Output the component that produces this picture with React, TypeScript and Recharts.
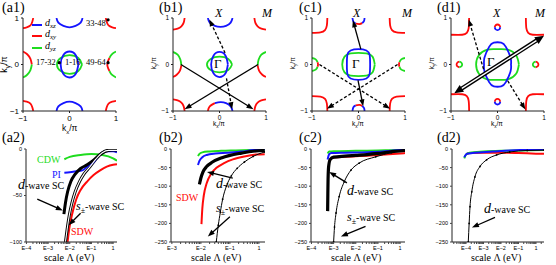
import { LineChart, Line, XAxis, YAxis, ReferenceLine, ReferenceDot } from "recharts"

type Pt = { x: number; y: number }
const P = (a: number[][]): Pt[] => a.map(([x, y]) => ({ x, y }))

const RED = "#ff0a0a"
const BLUE = "#1414ff"
const GREEN = "#1edc1e"
const SERIF = "'Liberation Serif', 'DejaVu Serif', serif"
const SANS = "'Liberation Sans', Arial, sans-serif"

// ---------- top row: Fermi surfaces (k in units of pi) ----------
const kTicks = [-1, 0, 1]

// (a1)
const a1TL = P([[-1, 0.78], [-0.92, 0.8], [-0.84, 0.84], [-0.8, 0.92], [-0.78, 1]])
const a1TR = P([[1, 0.78], [0.92, 0.8], [0.84, 0.84], [0.8, 0.92], [0.78, 1]])
const a1BL = P([[-1, -0.78], [-0.92, -0.8], [-0.84, -0.84], [-0.8, -0.92], [-0.78, -1]])
const a1BR = P([[1, -0.78], [0.92, -0.8], [0.84, -0.84], [0.8, -0.92], [0.78, -1]])
const a1Top = P([[-0.28, 1], [-0.24, 0.9], [-0.13, 0.83], [0, 0.8], [0.13, 0.83], [0.24, 0.9], [0.28, 1]])
const a1Bot = P([[-0.28, -1], [-0.24, -0.9], [-0.13, -0.83], [0, -0.8], [0.13, -0.83], [0.24, -0.9], [0.28, -1]])
const a1LeftRed = P([[-1, 0.28], [-0.91, 0.22], [-0.84, 0.12], [-0.81, 0]])
const a1LeftGreen = P([[-0.81, 0], [-0.84, -0.12], [-0.91, -0.22], [-1, -0.28]])
const a1RightG1 = P([[1, 0.28], [0.91, 0.22], [0.86, 0.14]])
const a1RightRed = P([[0.86, 0.14], [0.82, 0.05], [0.82, -0.05], [0.86, -0.14]])
const a1RightG2 = P([[0.86, -0.14], [0.91, -0.22], [1, -0.28]])
const a1GBlue = P([[0.19, 0], [0.135, 0.2], [0, 0.28], [-0.135, 0.2], [-0.19, 0], [-0.135, -0.2], [0, -0.28], [0.135, -0.2], [0.19, 0]])
const a1GGreen = P([[0.27, 0], [0.19, 0.14], [0, 0.2], [-0.19, 0.14], [-0.27, 0], [-0.19, -0.14], [0, -0.2], [0.19, -0.14], [0.27, 0]])
const a1Dots = P([[0.83, 0.96], [-0.22, 0.04], [0.83, 0.04]])

// (b1)
const b1TL = P([[-1, 0.75], [-0.9, 0.77], [-0.82, 0.82], [-0.77, 0.9], [-0.75, 1]])
const b1TR = P([[1, 0.75], [0.9, 0.77], [0.82, 0.82], [0.77, 0.9], [0.75, 1]])
const b1BL = P([[-1, -0.75], [-0.9, -0.77], [-0.82, -0.82], [-0.77, -0.9], [-0.75, -1]])
const b1BR = P([[1, -0.75], [0.9, -0.77], [0.82, -0.82], [0.77, -0.9], [0.75, -1]])
const b1Top = P([[-0.25, 1], [-0.21, 0.9], [-0.1, 0.83], [0.02, 0.81], [0.14, 0.83], [0.24, 0.9], [0.28, 1]])
const b1BotRed = P([[-0.25, -1], [-0.21, -0.9], [-0.1, -0.83]])
const b1BotBlue = P([[-0.1, -0.83], [0.02, -0.81], [0.14, -0.83], [0.24, -0.9], [0.28, -1]])
const b1LeftGreen = P([[-1, 0.27], [-0.9, 0.21], [-0.84, 0.1], [-0.82, -0.02]])
const b1LeftRed = P([[-0.82, -0.02], [-0.85, -0.13], [-0.92, -0.22], [-1, -0.27]])
const b1RightGreen = P([[1, 0.27], [0.9, 0.21], [0.84, 0.1], [0.82, -0.02]])
const b1RightRed = P([[0.82, -0.02], [0.85, -0.13], [0.92, -0.22], [1, -0.27]])
const b1GBlue = P([[0.18, 0], [0.13, 0.19], [0, 0.27], [-0.13, 0.19], [-0.18, 0], [-0.13, -0.19], [0, -0.27], [0.13, -0.19], [0.18, 0]])
const b1GGreen = P([[0.27, 0], [0.19, 0.12], [0, 0.17], [-0.19, 0.12], [-0.27, 0], [-0.19, -0.12], [0, -0.17], [0.19, -0.12], [0.27, 0]])

// (c1)
const c1TL = P([[-1, 0.68], [-0.82, 0.69], [-0.72, 0.74], [-0.68, 0.84], [-0.67, 1]])
const c1TR = P([[1, 0.68], [0.82, 0.69], [0.72, 0.74], [0.68, 0.84], [0.67, 1]])
const c1BL = P([[-1, -0.68], [-0.82, -0.69], [-0.72, -0.74], [-0.68, -0.84], [-0.67, -1]])
const c1BR = P([[1, -0.68], [0.82, -0.69], [0.72, -0.74], [0.68, -0.84], [0.67, -1]])
const c1TopB1 = P([[-0.13, 1], [-0.11, 0.92], [-0.06, 0.88]])
const c1TopR = P([[-0.06, 0.88], [0.02, 0.87], [0.08, 0.89]])
const c1TopB2 = P([[0.08, 0.89], [0.12, 0.94], [0.13, 1]])
const c1BotB1 = P([[-0.13, -1], [-0.11, -0.92], [-0.06, -0.88]])
const c1BotR = P([[-0.06, -0.88], [0.02, -0.87], [0.08, -0.89]])
const c1BotB2 = P([[0.08, -0.89], [0.12, -0.94], [0.13, -1]])
const c1LG1 = P([[-1, 0.14], [-0.92, 0.11], [-0.88, 0.05]])
const c1LR = P([[-0.88, 0.05], [-0.87, 0], [-0.88, -0.05]])
const c1LG2 = P([[-0.88, -0.05], [-0.92, -0.11], [-1, -0.14]])
const c1RG1 = P([[1, 0.14], [0.92, 0.11], [0.88, 0.05]])
const c1RR = P([[0.88, 0.05], [0.87, 0], [0.88, -0.05]])
const c1RG2 = P([[0.88, -0.05], [0.92, -0.11], [1, -0.14]])
const c1GBlue = P([[0.25, 0], [0.24, 0.2], [0.17, 0.3], [0, 0.33], [-0.17, 0.3], [-0.24, 0.2], [-0.25, 0], [-0.24, -0.2], [-0.17, -0.3], [0, -0.33], [0.17, -0.3], [0.24, -0.2], [0.25, 0]])
const c1GGreen = P([[0.35, 0], [0.3, 0.17], [0.17, 0.24], [0, 0.25], [-0.17, 0.24], [-0.3, 0.17], [-0.35, 0], [-0.3, -0.17], [-0.17, -0.24], [0, -0.25], [0.17, -0.24], [0.3, -0.17], [0.35, 0]])

// (d1)
const d1TL = P([[-1, 0.64], [-0.76, 0.64], [-0.66, 0.68], [-0.62, 0.78], [-0.61, 1]])
const d1TR = P([[1, 0.64], [0.76, 0.64], [0.66, 0.68], [0.62, 0.78], [0.61, 1]])
const d1BL = P([[-1, -0.64], [-0.76, -0.64], [-0.66, -0.68], [-0.62, -0.78], [-0.61, -1]])
const d1BR = P([[1, -0.64], [0.76, -0.64], [0.66, -0.68], [0.62, -0.78], [0.61, -1]])
const d1TopRed = P([[-0.06, 0.8], [-0.042, 0.842], [0, 0.86], [0.042, 0.842], [0.06, 0.8]])
const d1TopBlue = P([[-0.06, 0.8], [-0.042, 0.758], [0, 0.74], [0.042, 0.758], [0.06, 0.8]])
const d1BotRed = P([[-0.06, -0.8], [-0.042, -0.758], [0, -0.74], [0.042, -0.758], [0.06, -0.8]])
const d1BotBlue = P([[-0.06, -0.8], [-0.042, -0.842], [0, -0.86], [0.042, -0.842], [0.06, -0.8]])
const d1LRed = P([[-0.82, 0.06], [-0.862, 0.042], [-0.88, 0], [-0.862, -0.042], [-0.82, -0.06]])
const d1LGreen = P([[-0.82, 0.06], [-0.778, 0.042], [-0.76, 0], [-0.778, -0.042], [-0.82, -0.06]])
const d1RRed = P([[0.82, 0.06], [0.862, 0.042], [0.88, 0], [0.862, -0.042], [0.82, -0.06]])
const d1RGreen = P([[0.82, 0.06], [0.778, 0.042], [0.76, 0], [0.778, -0.042], [0.82, -0.06]])
const d1GBlue = P([[0.29, 0], [0.28, 0.15], [0.18, 0.38], [0.08, 0.47], [-0.08, 0.47], [-0.18, 0.38], [-0.28, 0.15], [-0.29, 0], [-0.28, -0.15], [-0.18, -0.38], [-0.08, -0.47], [0.08, -0.47], [0.18, -0.38], [0.28, -0.15], [0.29, 0]])
const d1GGreen = P([[0.46, 0], [0.4, 0.2], [0.22, 0.32], [0, 0.33], [-0.22, 0.32], [-0.4, 0.2], [-0.46, 0], [-0.4, -0.2], [-0.22, -0.32], [0, -0.33], [0.22, -0.32], [0.4, -0.2], [0.46, 0]])

type Arc = { c: string; d: Pt[] }
type Arr = { a: number[]; b: number[]; dash?: boolean; both?: boolean; dbl?: boolean }

const b1Arrows: Arr[] = [
  { a: [-0.83, 0], b: [0.73, -0.96] },
  { a: [0.83, 0], b: [-0.75, -0.96] },
  { a: [0.12, 0.25], b: [-0.22, 0.97], dash: true },
  { a: [0.15, -0.3], b: [0.27, -0.96], dash: true },
]
const c1Arrows: Arr[] = [
  { a: [0.05, 0.33], b: [-0.12, 0.95] },
  { a: [-0.01, -0.34], b: [0.1, -0.9] },
  { a: [-0.84, 0], b: [0.68, -0.95], dash: true },
  { a: [0.84, 0], b: [-0.68, -0.95], dash: true },
]
const d1Arrows: Arr[] = [
  { a: [-0.93, -0.62], b: [1.0, 0.62], both: true, dbl: true },
  { a: [-0.3, -0.1], b: [-0.62, 0.97], dash: true },
  { a: [0.22, -0.35], b: [0.6, -0.97], dash: true },
]

// ---------- bottom row: flow of the channel couplings vs scale ----------
const eTicks = [-4, -3, -2, -1, 0]
const eLabels = ["E\u22124", "E\u22123", "E\u22122", "E\u22121", "1"]
const minorMults = [2, 3, 4, 5, 6, 7, 8, 9]
const yTicksA = [0, -50, -100]
const yTicksB = [0, -50, -100, -150, -200, -250]

const a2Cdw = P([[-2.25, -11], [-2.0, -8.5], [-1.5, -6.5], [-1.0, -5.5], [-0.5, -6.5], [0, -10], [0.18, -12.5]])
const a2Pi = P([[-2.25, -25.5], [-2.0, -25], [-1.7, -24], [-1.42, -23], [-1.2, -19], [-0.9, -14], [-0.6, -6], [-0.3, -2.5], [0, -2.5], [0.18, -3.5]])
const a2Sdw = P([[-2.1, -100], [-2.02, -85], [-1.88, -69], [-1.7, -54], [-1.5, -44], [-1.2, -35], [-0.9, -28], [-0.6, -23], [-0.29, -19], [0, -17], [0.18, -16.5]])
const a2Spm = P([[-2.2, -100], [-2.12, -86], [-2.02, -71], [-1.9, -58], [-1.75, -46], [-1.55, -35], [-1.35, -27], [-1.1, -20], [-0.8, -11], [-0.5, -4], [-0.2, -1.5], [0.18, -1.5]])
const a2Dsc = P([[-2.27, -70], [-2.2, -58], [-2.1, -46], [-1.95, -35], [-1.75, -27], [-1.5, -21], [-1.2, -17], [-0.9, -12], [-0.6, -6], [-0.3, -2], [0, -1], [0.18, -1.5]])

const b2Cdw = P([[-2.1, -19], [-2.05, -13], [-1.95, -9], [-1.7, -6.5], [-1.3, -5], [-0.8, -4], [-0.3, -3], [0.2, -2]])
const b2Pi = P([[-2.1, -43], [-2.05, -32], [-1.95, -22], [-1.8, -16], [-1.5, -12], [-1.1, -10], [-0.6, -7], [-0.2, -3], [0.2, -1]])
const b2Sdw = P([[-1.98, -202], [-1.95, -160], [-1.9, -125], [-1.8, -92], [-1.65, -67], [-1.45, -50], [-1.2, -38], [-0.9, -28], [-0.5, -20], [-0.1, -15], [0.2, -14]])
const b2Dsc = P([[-2.05, -95], [-2.0, -78], [-1.93, -62], [-1.8, -47], [-1.6, -35], [-1.3, -24], [-1.0, -17], [-0.6, -11], [-0.2, -6], [0.2, -4]])
const b2Spm = P([[-1.47, -250], [-1.4, -205], [-1.33, -170], [-1.25, -135], [-1.12, -100], [-0.95, -72], [-0.75, -52], [-0.5, -35], [-0.2, -20], [0.2, -8]])

const c2Cdw = P([[-3.27, -12], [-3.2, -7], [-3.0, -6], [-2, -5], [-1, -4], [0, -3], [0.22, -3]])
const c2Pi = P([[-3.27, -28], [-3.2, -14], [-3.1, -11], [-2.5, -10], [-1.5, -9], [-0.8, -7], [-0.3, -4], [0.22, -2]])
const c2Sdw = P([[-3.2, -34], [-3.1, -25], [-3.0, -23], [-2.5, -21], [-2, -19.5], [-1.5, -18], [-1, -16], [-0.5, -14], [0.22, -11]])
const c2Dsc = P([[-3.27, -167], [-3.26, -120], [-3.25, -80], [-3.22, -45], [-3.15, -28], [-3.0, -22], [-2.5, -19], [-2, -17], [-1.5, -15], [-1, -12], [-0.5, -8], [0.22, -4]])
const c2Spm = P([[-3.0, -250], [-2.96, -210], [-2.89, -172], [-2.75, -128], [-2.52, -88], [-2.22, -57], [-1.85, -38], [-1.1, -21], [-0.4, -10], [0.22, -5]])

const d2Cdw = P([[-4.1, -25], [-4.0, -15], [-3.8, -10], [-3, -7], [-2, -5], [-1, -4], [0.46, -3]])
const d2Pi = P([[-4.1, -22], [-3.95, -13], [-3.5, -10], [-2.5, -7], [-1.5, -4], [-0.5, -2], [0.46, -1]])
const d2Sdw = P([[-3.96, -14], [-3.8, -11], [-3, -10], [-2, -10], [-1, -11], [0, -12.5], [0.46, -13]])
const d2Dsc = P([[-3.87, -250], [-3.82, -200], [-3.77, -155], [-3.67, -115], [-3.49, -75], [-3.2, -47], [-2.82, -29], [-2.25, -16], [-1.5, -8], [-0.5, -4], [0.46, -3]])

type Ser = { d: Pt[]; c: string; w: number; dots?: boolean; hollow?: boolean }

function ArrowPath({ x1, y1, x2, y2, dash, both, dbl }: any) {
  if ([x1, y1, x2, y2].some((v) => typeof v !== "number" || isNaN(v))) return null
  const len = Math.hypot(x2 - x1, y2 - y1) || 1
  const ux = (x2 - x1) / len
  const uy = (y2 - y1) / len
  const L = dbl ? 9 : 7
  const W = dbl ? 4 : 2.6
  const head = (x: number, y: number, sx: number, sy: number) => {
    const bx = x - sx * L
    const by = y - sy * L
    return `${x},${y} ${bx - sy * W},${by + sx * W} ${bx + sy * W},${by - sx * W}`
  }
  const sx = both ? x1 + ux * L * 0.8 : x1
  const sy = both ? y1 + uy * L * 0.8 : y1
  const ex = x2 - ux * L * 0.8
  const ey = y2 - uy * L * 0.8
  return (
    <g>
      <line x1={sx} y1={sy} x2={ex} y2={ey} stroke="#000" strokeWidth={dbl ? 4.2 : 1.3} strokeDasharray={dash ? "3 2" : undefined} />
      {dbl && <line x1={sx} y1={sy} x2={ex} y2={ey} stroke="#fff" strokeWidth={1.4} />}
      <polygon points={head(x2, y2, ux, uy)} fill="#000" />
      {both && <polygon points={head(x1, y1, -ux, -uy)} fill="#000" />}
    </g>
  )
}

const renderArrows = (arrows: Arr[], xId: string, yId: string) =>
  arrows.map((o, i) => (
    <ReferenceLine
      key={"ar" + i}
      xAxisId={xId}
      yAxisId={yId}
      ifOverflow="visible"
      segment={[{ x: o.a[0], y: o.a[1] }, { x: o.b[0], y: o.b[1] }]}
      shape={(p: any) => <ArrowPath x1={p.x1} y1={p.y1} x2={p.x2} y2={p.y2} dash={o.dash} both={o.both} dbl={o.dbl} />}
    />
  ))

const fmtK = (v: number) => (v < 0 ? "\u2212" + Math.abs(v) : String(v))

function FermiPanel({ left, top, arcs, arrows, dots, big }: { left: number; top: number; arcs: Arc[]; arrows: Arr[]; dots?: Pt[]; big?: boolean }) {
  const YW = 14
  const XH = 12
  const S = 93
  const tf = { fontSize: big ? 8 : 6.5, fill: "#000", fontFamily: SANS }
  return (
    <div style={{ position: "absolute", left: left - YW, top: top - 3 }}>
      <LineChart width={YW + S + 3} height={3 + S + XH} margin={{ top: 3, right: 3, bottom: 0, left: 0 }}>
        <XAxis xAxisId="b" type="number" dataKey="x" domain={[-1, 1]} ticks={kTicks} interval={0} allowDataOverflow height={XH} tick={tf} tickSize={2} tickFormatter={fmtK} axisLine={{ stroke: "#222" }} tickLine={{ stroke: "#222" }} />
        <XAxis xAxisId="t" orientation="top" type="number" dataKey="x" domain={[-1, 1]} ticks={kTicks} height={0} tick={false} tickLine={false} axisLine={{ stroke: "#aaa", strokeWidth: 1.6 }} />
        <YAxis yAxisId="l" type="number" dataKey="y" domain={[-1, 1]} ticks={kTicks} interval={0} allowDataOverflow width={YW} tick={tf} tickSize={2} tickFormatter={fmtK} axisLine={{ stroke: "#222" }} tickLine={{ stroke: "#222" }} />
        <YAxis yAxisId="r" orientation="right" type="number" dataKey="y" domain={[-1, 1]} ticks={kTicks} width={0} tick={false} tickLine={false} axisLine={{ stroke: "#aaa", strokeWidth: 1.6 }} />
        {arcs.map((a, i) => (
          <Line key={i} xAxisId="b" yAxisId="l" data={a.d} dataKey="y" type="natural" stroke={a.c} strokeWidth={1.8} dot={false} isAnimationActive={false} />
        ))}
        {renderArrows(arrows, "b", "l")}
        {(dots || []).map((d, i) => (
          <ReferenceDot key={"dt" + i} xAxisId="b" yAxisId="l" x={d.x} y={d.y} r={1.6} fill="#000" stroke="none" ifOverflow="visible" />
        ))}
      </LineChart>
    </div>
  )
}

function FlowPanel({ left, top, width, xDomain, yTicks, series, arrows }: { left: number; top: number; width: number; xDomain: number[]; yTicks: number[]; series: Ser[]; arrows: Arr[] }) {
  const YW = 20
  const XH = 10
  const H = 93
  const minors: number[] = []
  for (let d = Math.floor(xDomain[0]) - 1; d <= Math.ceil(xDomain[1]); d++) {
    minorMults.forEach((m) => {
      const v = d + Math.log10(m)
      if (v > xDomain[0] && v < xDomain[1]) minors.push(v)
    })
  }
  const majors = eTicks.filter((t) => t >= xDomain[0] && t <= xDomain[1])
  const xt = [...majors, ...minors].sort((p, q) => p - q)
  const fmtX = (v: number) => {
    const i = eTicks.findIndex((t) => Math.abs(t - v) < 1e-6)
    return i >= 0 ? eLabels[i] : ""
  }
  const fmtY = (v: number) => (v < 0 ? "\u2212" + Math.abs(v) : String(v))
  const tf = { fontSize: 5.5, fill: "#000", fontFamily: SANS }
  const yDom = [yTicks[yTicks.length - 1], 0]
  return (
    <div style={{ position: "absolute", left: left - YW, top: top - 3 }}>
      <LineChart width={YW + width + 3} height={3 + H + XH} margin={{ top: 3, right: 3, bottom: 0, left: 0 }}>
        <XAxis xAxisId="b" type="number" dataKey="x" domain={xDomain} ticks={xt} interval={0} allowDataOverflow height={XH} tick={tf} tickSize={2} tickFormatter={fmtX} axisLine={{ stroke: "#222" }} tickLine={{ stroke: "#444" }} />
        <XAxis xAxisId="t" orientation="top" type="number" dataKey="x" domain={xDomain} ticks={xt} interval={0} height={0} mirror tick={false} tickSize={2} axisLine={{ stroke: "#222" }} tickLine={{ stroke: "#444" }} />
        <YAxis yAxisId="l" type="number" dataKey="y" domain={yDom} ticks={yTicks} interval={0} allowDataOverflow width={YW} tick={tf} tickSize={2} tickFormatter={fmtY} axisLine={{ stroke: "#222" }} tickLine={{ stroke: "#444" }} />
        <YAxis yAxisId="r" orientation="right" type="number" dataKey="y" domain={yDom} ticks={yTicks} interval={0} width={0} mirror tick={false} tickSize={2} axisLine={{ stroke: "#aaa", strokeWidth: 1.6 }} tickLine={{ stroke: "#444" }} />
        {series.map((s, i) => (
          <Line key={i} xAxisId="b" yAxisId="l" data={s.d} dataKey="y" type="monotone" stroke={s.c} strokeWidth={s.w} dot={s.dots ? { r: 0.9, fill: "#000", stroke: "none" } : false} isAnimationActive={false} />
        ))}
        {series.filter((s) => s.hollow).map((s, i) => (
          <Line key={"h" + i} xAxisId="b" yAxisId="l" data={s.d} dataKey="y" type="monotone" stroke="#fff" strokeWidth={1.1} dot={false} isAnimationActive={false} />
        ))}
        {renderArrows(arrows, "b", "l")}
      </LineChart>
    </div>
  )
}

const Txt = ({ x, y, s = 10, c = "#000", children, st }: any) => (
  <div style={{ position: "absolute", left: x, top: y, fontSize: s, color: c, lineHeight: 1, whiteSpace: "nowrap", fontFamily: SERIF, ...st }}>{children}</div>
)

const DW = ({ x, y }: { x: number; y: number }) => (
  <Txt x={x} y={y} s={10}>
    <i style={{ fontSize: 14 }}>d</i>-wave SC
  </Txt>
)
const SW = ({ x, y }: { x: number; y: number }) => (
  <Txt x={x} y={y} s={10}>
    <i style={{ fontSize: 12 }}>s</i>
    <span style={{ fontSize: 8, position: "relative", top: 3 }}>±</span>-wave SC
  </Txt>
)

const Ky = ({ x, y, s }: { x: number; y: number; s: number }) => (
  <Txt x={x} y={y} s={s} st={{ transform: "rotate(-90deg)", transformOrigin: "center", fontFamily: SANS }}>
    k<span style={{ fontSize: s * 0.7, position: "relative", top: s * 0.3 }}>y</span>/π
  </Txt>
)
const Kx = ({ x, y, s }: { x: number; y: number; s: number }) => (
  <Txt x={x} y={y} s={s} st={{ fontFamily: SANS }}>
    k<span style={{ fontSize: s * 0.7, position: "relative", top: s * 0.3 }}>x</span>/π
  </Txt>
)

const LegItem = ({ y, c, sub }: { y: number; c: string; sub: string }) => (
  <>
    <div style={{ position: "absolute", left: 32, top: y, width: 10, height: 2, background: c }} />
    <Txt x={45} y={y - 6} s={10}>
      <i>d</i>
      <i style={{ fontSize: 7, position: "relative", top: 2 }}>{sub}</i>
    </Txt>
  </>
)

export default function App() {
  const a1Arcs: Arc[] = [
    { c: RED, d: a1TL }, { c: RED, d: a1TR }, { c: RED, d: a1BL }, { c: RED, d: a1BR },
    { c: BLUE, d: a1Top }, { c: BLUE, d: a1Bot },
    { c: RED, d: a1LeftRed }, { c: GREEN, d: a1LeftGreen },
    { c: GREEN, d: a1RightG1 }, { c: RED, d: a1RightRed }, { c: GREEN, d: a1RightG2 },
    { c: GREEN, d: a1GGreen }, { c: BLUE, d: a1GBlue },
  ]
  const b1Arcs: Arc[] = [
    { c: RED, d: b1TL }, { c: RED, d: b1TR }, { c: RED, d: b1BL }, { c: RED, d: b1BR },
    { c: BLUE, d: b1Top }, { c: RED, d: b1BotRed }, { c: BLUE, d: b1BotBlue },
    { c: GREEN, d: b1LeftGreen }, { c: RED, d: b1LeftRed },
    { c: GREEN, d: b1RightGreen }, { c: RED, d: b1RightRed },
    { c: GREEN, d: b1GGreen }, { c: BLUE, d: b1GBlue },
  ]
  const c1Arcs: Arc[] = [
    { c: RED, d: c1TL }, { c: RED, d: c1TR }, { c: RED, d: c1BL }, { c: RED, d: c1BR },
    { c: BLUE, d: c1TopB1 }, { c: RED, d: c1TopR }, { c: BLUE, d: c1TopB2 },
    { c: BLUE, d: c1BotB1 }, { c: RED, d: c1BotR }, { c: BLUE, d: c1BotB2 },
    { c: GREEN, d: c1LG1 }, { c: RED, d: c1LR }, { c: GREEN, d: c1LG2 },
    { c: GREEN, d: c1RG1 }, { c: RED, d: c1RR }, { c: GREEN, d: c1RG2 },
    { c: GREEN, d: c1GGreen }, { c: BLUE, d: c1GBlue },
  ]
  const d1Arcs: Arc[] = [
    { c: RED, d: d1TL }, { c: RED, d: d1TR }, { c: RED, d: d1BL }, { c: RED, d: d1BR },
    { c: RED, d: d1TopRed }, { c: BLUE, d: d1TopBlue }, { c: RED, d: d1BotRed }, { c: BLUE, d: d1BotBlue },
    { c: RED, d: d1LRed }, { c: GREEN, d: d1LGreen }, { c: RED, d: d1RRed }, { c: GREEN, d: d1RGreen },
    { c: GREEN, d: d1GGreen }, { c: BLUE, d: d1GBlue },
  ]

  const a2Series: Ser[] = [
    { d: a2Cdw, c: GREEN, w: 2 }, { d: a2Sdw, c: RED, w: 2 }, { d: a2Spm, c: "#000", w: 3, hollow: true },
    { d: a2Pi, c: BLUE, w: 2 }, { d: a2Dsc, c: "#000", w: 3 },
  ]
  const b2Series: Ser[] = [
    { d: b2Sdw, c: RED, w: 2 }, { d: b2Cdw, c: GREEN, w: 2 }, { d: b2Pi, c: BLUE, w: 2 },
    { d: b2Dsc, c: "#000", w: 3.2 }, { d: b2Spm, c: "#000", w: 1, dots: true },
  ]
  const c2Series: Ser[] = [
    { d: c2Cdw, c: GREEN, w: 2 }, { d: c2Pi, c: BLUE, w: 2 }, { d: c2Sdw, c: RED, w: 2 },
    { d: c2Dsc, c: "#000", w: 3.2 }, { d: c2Spm, c: "#000", w: 1, dots: true },
  ]
  const d2Series: Ser[] = [
    { d: d2Sdw, c: RED, w: 2 }, { d: d2Cdw, c: GREEN, w: 2 }, { d: d2Pi, c: BLUE, w: 2 },
    { d: d2Dsc, c: "#000", w: 1, dots: true },
  ]

  return (
    <div style={{ position: "fixed", left: 0, top: 0, width: 556, height: 265, background: "#fff", overflow: "hidden", fontFamily: SERIF }}>
      {/* top row */}
      <FermiPanel left={23} top={18} arcs={a1Arcs} arrows={[]} dots={a1Dots} big />
      <FermiPanel left={173} top={18} arcs={b1Arcs} arrows={b1Arrows} />
      <FermiPanel left={312} top={18} arcs={c1Arcs} arrows={c1Arrows} />
      <FermiPanel left={451} top={18} arcs={d1Arcs} arrows={d1Arrows} />

      <Txt x={2} y={1} s={14}>(a1)</Txt>
      <Txt x={159} y={1} s={14}>(b1)</Txt>
      <Txt x={299} y={1} s={14}>(c1)</Txt>
      <Txt x={437} y={1} s={14}>(d1)</Txt>

      <LegItem y={24} c={BLUE} sub="xz" />
      <LegItem y={35} c={RED} sub="xy" />
      <LegItem y={47} c={GREEN} sub="yz" />
      <Txt x={86} y={19} s={8.5}>33-48</Txt>
      <Txt x={36} y={58} s={8.5}>17-32</Txt>
      <Txt x={65} y={58} s={8.5}>1-16</Txt>
      <Txt x={86} y={58} s={8.5}>49-64</Txt>

      <Ky x={-4} y={60} s={9} />
      <Kx x={62} y={124} s={8.5} />
      <Ky x={148} y={60} s={6.5} />
      <Kx x={213} y={121} s={6.5} />
      <Ky x={287} y={60} s={6.5} />
      <Kx x={352} y={121} s={6.5} />
      <Ky x={426} y={60} s={6.5} />
      <Kx x={491} y={121} s={6.5} />

      <Txt x={214} y={57} s={13}>Γ</Txt>
      <Txt x={352} y={57} s={13}>Γ</Txt>
      <Txt x={487} y={55} s={13}>Γ</Txt>
      <Txt x={215} y={7} s={12}><i>X</i></Txt>
      <Txt x={262} y={7} s={12}><i>M</i></Txt>
      <Txt x={353} y={7} s={12}><i>X</i></Txt>
      <Txt x={402} y={7} s={12}><i>M</i></Txt>
      <Txt x={493} y={7} s={12}><i>X</i></Txt>
      <Txt x={535} y={7} s={12}><i>M</i></Txt>

      {/* bottom row */}
      <FlowPanel left={26} top={149} width={91} xDomain={[-4.02, 0.18]} yTicks={yTicksA} series={a2Series}
        arrows={[{ a: [-3.5, -54], b: [-2.32, -66] }, { a: [-1.5, -69], b: [-2.05, -82] }]} />
      <FlowPanel left={171} top={149} width={94} xDomain={[-3.03, 0.21]} yTicks={yTicksB} series={b2Series}
        arrows={[{ a: [-0.9, -78], b: [-1.79, -61.5] }, { a: [-1.0, -182], b: [-1.76, -235] }]} />
      <FlowPanel left={311} top={149} width={94} xDomain={[-4.02, 0.22]} yTicks={yTicksB} series={c2Series}
        arrows={[{ a: [-2.4, -91], b: [-3.2, -61.5] }, { a: [-1.56, -208], b: [-2.67, -235] }]} />
      <FlowPanel left={452} top={149} width={92} xDomain={[-4.8, 0.46]} yTicks={yTicksB} series={d2Series}
        arrows={[{ a: [-2.34, -184], b: [-3.66, -211] }]} />

      <Txt x={2} y={131} s={14}>(a2)</Txt>
      <Txt x={159} y={131} s={14}>(b2)</Txt>
      <Txt x={299} y={131} s={14}>(c2)</Txt>
      <Txt x={437} y={131} s={14}>(d2)</Txt>

      <Txt x={37} y={155} s={10} c={GREEN}>CDW</Txt>
      <Txt x={52} y={170} s={10} c={BLUE}>PI</Txt>
      <DW x={18} y={178} />
      <SW x={76} y={200} />
      <Txt x={71} y={227} s={10} c={RED}>SDW</Txt>

      <DW x={216} y={177} />
      <Txt x={176} y={193} s={10} c={RED}>SDW</Txt>
      <SW x={216} y={202} />

      <DW x={347} y={184} />
      <SW x={347} y={211} />

      <DW x={484} y={202} />

      <Txt x={44} y={253} s={10}>scale Λ (eV)</Txt>
      <Txt x={191} y={253} s={10}>scale Λ (eV)</Txt>
      <Txt x={331} y={253} s={10}>scale Λ (eV)</Txt>
      <Txt x={471} y={253} s={10}>scale Λ (eV)</Txt>
    </div>
  )
}
